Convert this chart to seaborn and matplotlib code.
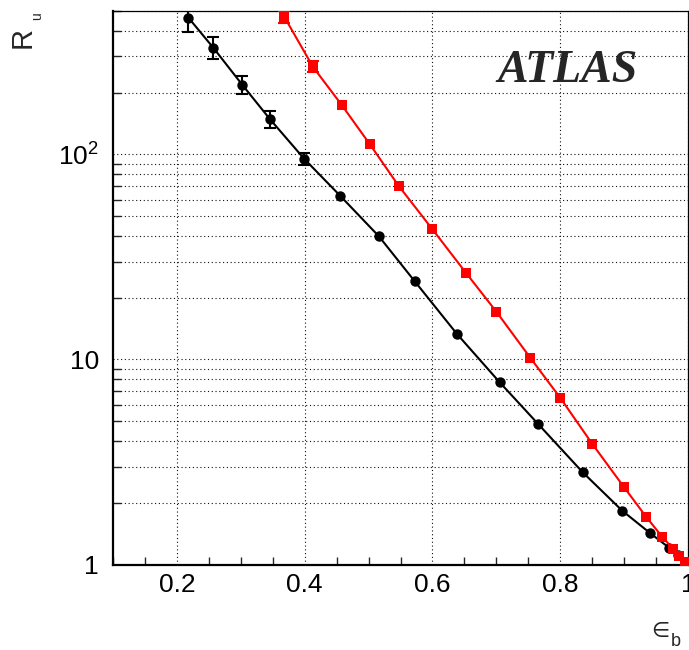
import numpy as np
import pandas as pd
import matplotlib
matplotlib.use("Agg")
import matplotlib.pyplot as plt
import seaborn as sns
from matplotlib.ticker import FixedLocator, MultipleLocator, LogLocator, NullFormatter

# ---- data ----
eff_black = [0.218, 0.257, 0.302, 0.346, 0.399, 0.456, 0.516, 0.572, 0.638,
             0.705, 0.765, 0.835, 0.897, 0.941, 0.970, 0.985, 1.0]
rej_black = [464, 331, 219, 148, 95.3, 62.6, 39.9, 24.1, 13.35,
             7.75, 4.86, 2.82, 1.83, 1.42, 1.21, 1.11, 1.0]
black_err_lo = [69, 39, 21, 13, 6.2]
black_err_hi = [69, 44, 23, 14, 6.6]

eff_red = [0.368, 0.413, 0.458, 0.502, 0.547, 0.600, 0.653, 0.700, 0.753,
           0.800, 0.850, 0.900, 0.935, 0.960, 0.977, 0.986, 0.996]
rej_red = [469, 267, 174, 112, 70.3, 43.1, 26.3, 17.1, 10.2,
           6.50, 3.88, 2.38, 1.70, 1.36, 1.19, 1.10, 1.03]
red_err_lo = [30, 16]
red_err_hi = [33, 17]

x_ticks = [0.2, 0.4, 0.6, 0.8, 1.0]
x_ticklabels = ["0.2", "0.4", "0.6", "0.8", "1"]
y_ticks = [1, 10, 100]
y_ticklabels = ["1", "10", r"$10^{2}$"]

# ---- style ----
sns.set_theme(style="white")
plt.rcParams["font.family"] = ["Liberation Sans", "DejaVu Sans"]
plt.rcParams["mathtext.fontset"] = "custom"
plt.rcParams["mathtext.rm"] = "Liberation Sans"
plt.rcParams["mathtext.it"] = "Liberation Sans:italic"

fig = plt.figure(figsize=(6.89, 6.5), dpi=100)
ax = fig.add_axes([113 / 689, 85.5 / 650, 575 / 689, 553.5 / 650])

df_b = pd.DataFrame({"eff": eff_black, "rej": rej_black})
df_r = pd.DataFrame({"eff": eff_red, "rej": rej_red})

ax.set_yscale("log")

# error bars
nb = len(black_err_lo)
ax.errorbar(eff_black[:nb], rej_black[:nb], yerr=[black_err_lo, black_err_hi],
            fmt="none", ecolor="black", elinewidth=1.5, capsize=4, capthick=1.5, zorder=3)
nr = len(red_err_lo)
ax.errorbar(eff_red[:nr], rej_red[:nr], yerr=[red_err_lo, red_err_hi],
            fmt="none", ecolor="red", elinewidth=1.5, capsize=4, capthick=1.5, zorder=4)

sns.lineplot(data=df_b, x="eff", y="rej", ax=ax, color="black", marker="o",
             markersize=7.5, markeredgewidth=0, linewidth=1.5, sort=False,
             estimator=None, zorder=3)
sns.lineplot(data=df_r, x="eff", y="rej", ax=ax, color="#ff0000", marker="s",
             markersize=7, markeredgewidth=0, linewidth=1.5, sort=False,
             estimator=None, zorder=4)

ax.set_xlim(0.1, 1.0)
ax.set_ylim(1, 500)

ax.xaxis.set_major_locator(FixedLocator(x_ticks))
ax.set_xticklabels(x_ticklabels)
ax.xaxis.set_minor_locator(MultipleLocator(0.05))
ax.yaxis.set_major_locator(FixedLocator(y_ticks))
ax.set_yticklabels(y_ticklabels)
ax.yaxis.set_minor_locator(LogLocator(base=10, subs=np.arange(2, 10)))
ax.yaxis.set_minor_formatter(NullFormatter())

ax.tick_params(axis="both", which="major", direction="in", length=11.5, width=1.0,
               labelsize=19, colors="black", top=False, right=False)
ax.tick_params(axis="both", which="minor", direction="in", length=5.8, width=1.0,
               top=False, right=False, left=True, bottom=True)
ax.tick_params(axis="x", which="major", pad=6)
ax.tick_params(axis="y", which="major", pad=10)

gkw = dict(color="#111111", linewidth=0.8, linestyle=(0, (1, 2.4)))
ax.grid(True, axis="x", which="major", **gkw)
ax.grid(True, axis="y", which="both", **gkw)
ax.set_axisbelow(True)

ax.set_xlabel("")
ax.set_ylabel("")
for side in ["left", "bottom"]:
    ax.spines[side].set_linewidth(1.6)
for side in ["top", "right"]:
    ax.spines[side].set_linewidth(0.9)
for s in ax.spines.values():
    s.set_color("black")
    s.set_visible(True)

# ATLAS label
ax.text(0.79, 0.872, "ATLAS", transform=ax.transAxes, ha="center", va="baseline",
        fontsize=33, fontweight="bold", fontstyle="italic", family="Liberation Serif")

# axis titles
fig.text(23 / 689, 1 - 37 / 650, "R", rotation=90, ha="center", va="center", fontsize=21)
fig.text(37 / 689, 1 - 16 / 650, "u", rotation=90, ha="center", va="center", fontsize=10)
fig.text(660 / 689, 1 - 631 / 650, "∈", ha="center", va="center", fontsize=15,
         family=["DejaVu Sans"])
fig.text(676 / 689, 1 - 641 / 650, "b", ha="center", va="center", fontsize=13)

fig.savefig("out.png", dpi=100)
